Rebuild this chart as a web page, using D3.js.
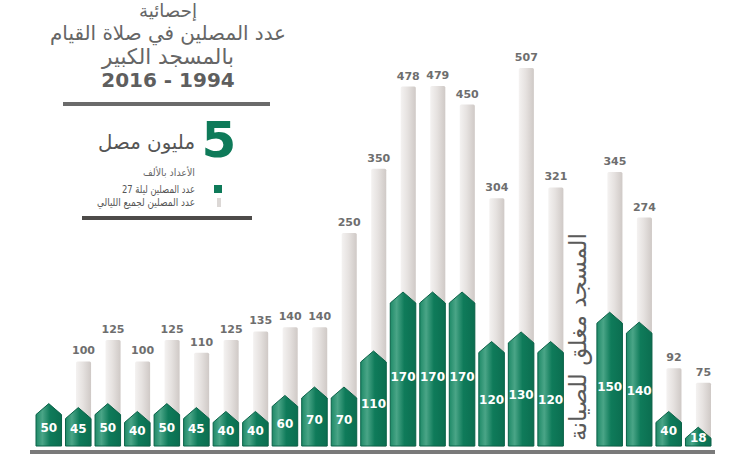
<!DOCTYPE html>
<html>
<head>
<meta charset="utf-8">
<script src="https://cdn.jsdelivr.net/npm/d3@7/dist/d3.min.js"></script>
<style>
  html, body { margin: 0; padding: 0; background: #ffffff; }
  svg { display: block; font-family: "DejaVu Sans", "Noto Sans", sans-serif; }
</style>
</head>
<body>
<div id="chart"></div>
<script>
// years 1994 - 2016, the mosque was closed in 2012
const years = ['1994', '1995', '1996', '1997', '1998', '1999', '2000', '2001', '2002', '2003', '2004', '2005',
  '2006', '2007', '2008', '2009', '2010', '2011', '2012', '2013', '2014', '2015', '2016'];
const night27Values = [50, 45, 50, 40, 50, 45, 40, 40, 60, 70, 70, 110, 170, 170, 170, 120, 130, 120, null, 150, 140, 40, 18];
const allNightsValues = [null, 100, 125, 100, 125, 110, 125, 135, 140, 140, 250, 350, 478, 479, 450, 304, 507, 321, null, 345, 274, 92, 75];

const titleLines = ['إحصائية', 'عدد المصلين في صلاة القيام', 'بالمسجد الكبير'];
const yearsLabel = '2016 - 1994';
const totalNumber = '5';
const totalLabel = 'مليون مصل';
const unitsNote = 'الأعداد بالألف';
const legendLabels = ['عدد المصلين ليلة 27', 'عدد المصلين لجميع الليالي'];
const closedLabel = 'المسجد مغلق للصيانة';

const width = 744;
const height = 457;
const baseY = 447;
const green = '#0e7a59';
const textGray = '#666666';

const data = years.map((y, i) => ({ year: y, night27: night27Values[i], all: allNightsValues[i] }));

const svg = d3.select('#chart').append('svg')
  .attr('width', width)
  .attr('height', height);

const defs = svg.append('defs');
const gGreen = defs.append('linearGradient').attr('id', 'greenGrad').attr('x1', 0).attr('x2', 1).attr('y1', 0).attr('y2', 0);
gGreen.append('stop').attr('offset', '0%').attr('stop-color', '#1f8a68');
gGreen.append('stop').attr('offset', '25%').attr('stop-color', '#4aa587');
gGreen.append('stop').attr('offset', '55%').attr('stop-color', '#0f7b5a');
gGreen.append('stop').attr('offset', '100%').attr('stop-color', '#0b6e50');

const gGray = defs.append('linearGradient').attr('id', 'grayGrad').attr('x1', 0).attr('x2', 1).attr('y1', 0).attr('y2', 0);
gGray.append('stop').attr('offset', '0%').attr('stop-color', '#f4f2f1');
gGray.append('stop').attr('offset', '45%').attr('stop-color', '#e6e2e0');
gGray.append('stop').attr('offset', '100%').attr('stop-color', '#cfc9c6');

const x = d3.scaleBand()
  .domain(years)
  .range([36, 711])
  .paddingInner(0.135)
  .paddingOuter(0);

// the two series are drawn on their own scales in the original (not proportional)
const hGreen = d3.scalePow().exponent(1.2).domain([0, 170]).range([10, 155]);
const hGray = d3.scaleLinear().domain([0, 250, 507]).range([0, 214, 379]);

const bw = x.bandwidth();
const grayOffset = bw * 0.41;

// grey bars (all nights)
const grayData = data.filter(d => d.all != null);
svg.append('g').selectAll('rect')
  .data(grayData)
  .enter()
  .append('rect')
  .attr('x', d => x(d.year) + grayOffset)
  .attr('y', d => baseY - hGray(d.all))
  .attr('width', bw - grayOffset)
  .attr('height', d => hGray(d.all))
  .attr('rx', 1.5)
  .attr('fill', 'url(#grayGrad)');

svg.append('g').selectAll('text')
  .data(grayData)
  .enter()
  .append('text')
  .attr('x', d => x(d.year) + grayOffset + (bw - grayOffset) / 2)
  .attr('y', d => baseY - hGray(d.all) - 7)
  .attr('text-anchor', 'middle')
  .attr('font-size', '11px')
  .attr('font-weight', 'bold')
  .attr('fill', '#6e6e6e')
  .text(d => d.all);

// green arrow bars (night 27)
const greenData = data.filter(d => d.night27 != null);
const arrowPath = d => {
  const x0 = x(d.year);
  const x1 = x0 + bw;
  const top = baseY - hGreen(d.night27);
  const shoulder = top + 11;
  return `M${x0},${baseY - 1} L${x0},${shoulder} L${x0 + bw / 2},${top} L${x1},${shoulder} L${x1},${baseY - 1} Z`;
};

svg.append('g').selectAll('path')
  .data(greenData)
  .enter()
  .append('path')
  .attr('d', arrowPath)
  .attr('fill', 'url(#greenGrad)')
  .attr('stroke', '#0a6248')
  .attr('stroke-width', 1)
  .attr('stroke-linejoin', 'round');

svg.append('g').selectAll('text')
  .data(greenData)
  .enter()
  .append('text')
  .attr('x', d => x(d.year) + bw / 2)
  .attr('y', d => baseY - 0.45 * hGreen(d.night27))
  .attr('dy', '0.35em')
  .attr('text-anchor', 'middle')
  .attr('font-size', '12px')
  .attr('font-weight', 'bold')
  .attr('fill', '#ffffff')
  .text(d => d.night27);

// baseline
svg.append('rect')
  .attr('x', 30).attr('y', 450)
  .attr('width', 685).attr('height', 4)
  .attr('fill', '#7a7a7a');

const fitText = (sel, target) => {
  const len = sel.node().getComputedTextLength();
  const fs = parseFloat(sel.attr('font-size'));
  if (len > 0) sel.attr('font-size', (fs * target / len).toFixed(2) + 'px');
};

// closed year note
const closedX = x('2012') + bw / 2;
const closed = svg.append('text')
  .attr('transform', `translate(${closedX + 6},${337}) rotate(-90)`)
  .attr('text-anchor', 'middle')
  .attr('font-size', '22px')
  .attr('fill', '#5a5a5a')
  .attr('direction', 'rtl')
  .text(closedLabel);
fitText(closed, 208);

// title block
const titleX = 168;
const titleY = [17, 40, 64];
const titleW = [58, 236, 132];
titleLines.forEach((t, i) => {
  const el = svg.append('text')
    .attr('x', titleX)
    .attr('y', titleY[i])
    .attr('text-anchor', 'middle')
    .attr('direction', 'rtl')
    .attr('font-size', '20px')
    .attr('fill', textGray)
    .text(t);
  fitText(el, titleW[i]);
});

svg.append('text')
  .attr('x', titleX)
  .attr('y', 87)
  .attr('text-anchor', 'middle')
  .attr('font-size', '20px')
  .attr('font-weight', 'bold')
  .attr('fill', '#5e5e5e')
  .attr('direction', 'ltr')
  .text(yearsLabel);

svg.append('rect')
  .attr('x', 63).attr('y', 102)
  .attr('width', 207).attr('height', 4)
  .attr('fill', '#6b6b6b');

// five million
svg.append('text')
  .attr('x', 219)
  .attr('y', 157)
  .attr('text-anchor', 'middle')
  .attr('font-size', '50px')
  .attr('font-weight', 'bold')
  .attr('fill', green)
  .text(totalNumber);

// rtl text: 'start' anchors on the right edge
const million = svg.append('text')
  .attr('x', 195)
  .attr('y', 149)
  .attr('text-anchor', 'start')
  .attr('direction', 'rtl')
  .attr('font-size', '20px')
  .attr('fill', '#555555')
  .text(totalLabel);
fitText(million, 97);

// small texts: keep the reference's size and squeeze to its width
const squeeze = (sel, target) => {
  const len = sel.node().getComputedTextLength();
  if (len > target) sel.attr('textLength', target).attr('lengthAdjust', 'spacingAndGlyphs');
};

const note = svg.append('text')
  .attr('x', 195)
  .attr('y', 176)
  .attr('text-anchor', 'start')
  .attr('direction', 'rtl')
  .attr('font-size', '10px')
  .attr('fill', textGray)
  .text(unitsNote);
squeeze(note, 52);

// legend
const legend = svg.append('g').attr('class', 'legend');
legend.append('rect')
  .attr('x', 214).attr('y', 185)
  .attr('width', 8).attr('height', 8)
  .attr('fill', green);
legend.append('rect')
  .attr('x', 217).attr('y', 198)
  .attr('width', 4).attr('height', 9)
  .attr('fill', '#dcd8d6');
const legendW = [73, 98];
legendLabels.forEach((t, i) => {
  const el = legend.append('text')
    .attr('x', 195)
    .attr('y', 193 + i * 13)
    .attr('text-anchor', 'start')
    .attr('direction', 'rtl')
    .attr('font-size', '10.5px')
    .attr('fill', '#555555')
    .text(t);
  squeeze(el, legendW[i]);
});

svg.append('rect')
  .attr('x', 82).attr('y', 216)
  .attr('width', 170).attr('height', 4)
  .attr('fill', '#4d4b49');
</script>
</body>
</html>
